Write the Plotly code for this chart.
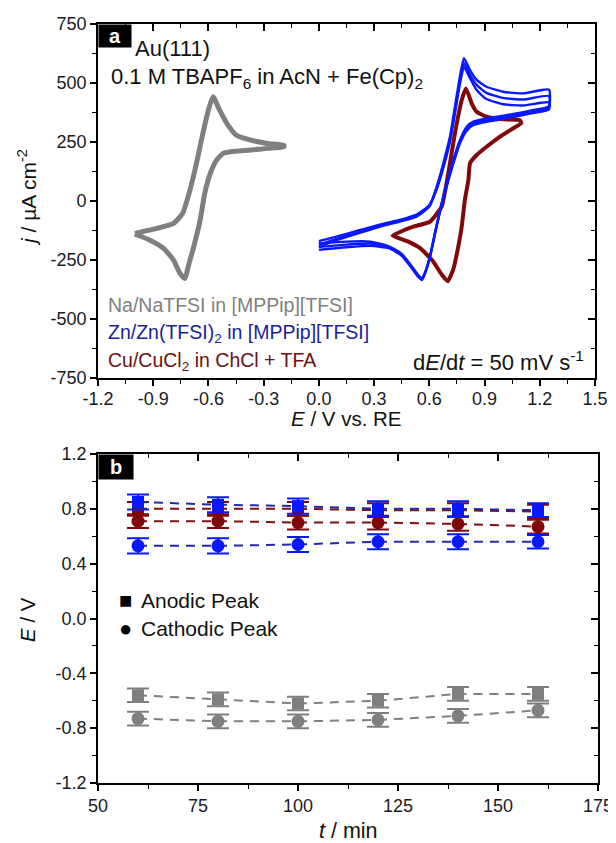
import plotly.graph_objects as go

# The page body has an 8 px margin; the figure starts at (8, 8) and reaches the window edges
OFF = 8
W, H = 616 - OFF, 843 - OFF
FONT = "Arial, Liberation Sans, sans-serif"

def px(x):
    return (x - OFF) / W

def py(y):
    return 1 - (y - OFF) / H

# ---------------- Panel a: cyclic voltammograms ----------------
gray_E = [-1.00, -0.88, -0.79, -0.74, -0.70, -0.665, -0.63, -0.60, -0.575, -0.54, -0.50, -0.45, -0.37, -0.28, -0.19,
          -0.19, -0.28, -0.37, -0.48, -0.52, -0.555, -0.59, -0.62, -0.645, -0.68, -0.71, -0.727, -0.755, -0.79, -0.845, -0.92, -1.00]
gray_j = [-137, -116, -95, -52, 47, 160, 287, 386, 442, 386, 329, 280, 258, 244, 237,
          230, 223, 216, 209, 202, 174, 117, 33, -81, -194, -278, -328, -306, -250, -200, -165, -140]

blue_E = [0.00, 0.10, 0.20, 0.33, 0.45, 0.53, 0.60, 0.64, 0.676, 0.712, 0.739, 0.766, 0.788, 0.821, 0.857, 0.91, 1.00, 1.11, 1.25,
          1.25, 1.147, 1.02, 0.911, 0.839, 0.803, 0.766, 0.73, 0.694, 0.658, 0.63, 0.603, 0.58, 0.56, 0.54, 0.50, 0.45, 0.38, 0.28, 0.15, 0.00]
blue1_j = [-195, -165, -140, -109, -85, -66, -24, 61, 160, 272, 400, 527, 605, 555, 513, 484, 463, 456, 472,
           402, 383, 364, 350, 336, 315, 258, 174, 75, -38, -137, -236, -300, -335, -322, -280, -232, -200, -190, -196, -207]
blue2_j = [-185, -160, -135, -105, -82, -62, -20, 55, 150, 262, 385, 510, 585, 535, 492, 458, 437, 430, 445,
           395, 375, 356, 342, 328, 305, 250, 165, 68, -42, -140, -238, -298, -330, -318, -276, -228, -196, -180, -185, -195]
blue3_j = [-170, -150, -128, -100, -78, -58, -18, 50, 140, 250, 370, 495, 568, 520, 470, 432, 410, 405, 418,
           388, 370, 350, 336, 322, 298, 244, 158, 62, -45, -142, -236, -295, -326, -314, -272, -224, -192, -172, -172, -180]

red_E = [0.40, 0.45, 0.513, 0.603, 0.667, 0.703, 0.739, 0.776, 0.799, 0.83, 0.857, 0.911, 1.00, 1.09, 1.10,
         1.056, 0.984, 0.911, 0.857, 0.821, 0.812, 0.793, 0.776, 0.757, 0.73, 0.70, 0.67, 0.62, 0.55, 0.48, 0.40]
red_j = [-147, -128, -109, -88, -24, 117, 287, 428, 477, 414, 378, 357, 346, 343, 330,
         308, 273, 230, 195, 160, 89, 4, -109, -194, -290, -340, -315, -255, -200, -170, -147]

x_a_ticks = [-1.2, -0.9, -0.6, -0.3, 0.0, 0.3, 0.6, 0.9, 1.2, 1.5]
x_a_labels = ["-1.2", "-0.9", "-0.6", "-0.3", "0.0", "0.3", "0.6", "0.9", "1.2", "1.5"]
y_a_ticks = [-750, -500, -250, 0, 250, 500, 750]
y_a_labels = ["-750", "-500", "-250", "0", "250", "500", "750"]

# ---------------- Panel b: peak potentials vs time ----------------
t_min = [60, 80, 100, 120, 140, 160]
gray_anodic = [-0.56, -0.59, -0.62, -0.60, -0.55, -0.55]
gray_cathodic = [-0.73, -0.75, -0.75, -0.74, -0.71, -0.67]
red_anodic = [0.80, 0.80, 0.80, 0.79, 0.79, 0.78]
red_cathodic = [0.71, 0.71, 0.70, 0.70, 0.69, 0.67]
blue_anodic = [0.85, 0.83, 0.82, 0.80, 0.80, 0.79]
blue_cathodic = [0.53, 0.53, 0.54, 0.56, 0.56, 0.56]
gray_err = [0.05, 0.05, 0.05, 0.05, 0.05, 0.05]
red_err = [0.05, 0.05, 0.05, 0.05, 0.05, 0.05]
blue_err = [0.055, 0.055, 0.055, 0.055, 0.055, 0.05]

x_b_ticks = [50, 75, 100, 125, 150, 175]
x_b_labels = ["50", "75", "100", "125", "150", "175"]
y_b_ticks = [-1.2, -0.8, -0.4, 0.0, 0.4, 0.8, 1.2]
y_b_labels = ["-1.2", "-0.8", "-0.4", "0.0", "0.4", "0.8", "1.2"]

GRAY = "#7f7f7f"
BLUE = "#0a18ff"
BLUE_DASH = "#2626a8"
RED = "#7f0808"
RED_DASH = "#7a1212"

fig = go.Figure()

# panel a curves
fig.add_trace(go.Scatter(x=gray_E, y=gray_j, mode="lines",
                         line=dict(color=GRAY, width=5, shape="spline", smoothing=0.5),
                         xaxis="x", yaxis="y", showlegend=False, hoverinfo="skip"))
fig.add_trace(go.Scatter(x=red_E, y=red_j, mode="lines",
                         line=dict(color=RED, width=4, shape="spline", smoothing=0.4),
                         xaxis="x", yaxis="y", showlegend=False, hoverinfo="skip"))
for bj in (blue3_j, blue2_j, blue1_j):
    fig.add_trace(go.Scatter(x=blue_E, y=bj, mode="lines",
                             line=dict(color=BLUE, width=2.4, shape="spline", smoothing=0.5),
                             xaxis="x", yaxis="y", showlegend=False, hoverinfo="skip"))

# panel b series
def peak_trace(y, err, mcol, lcol, symbol, size):
    return go.Scatter(x=t_min, y=y, mode="lines+markers",
                      line=dict(color=lcol, width=2, dash="9px,7px"),
                      marker=dict(color=mcol, symbol=symbol, size=size),
                      error_y=dict(type="data", array=err, visible=True, color=mcol, thickness=2, width=11),
                      xaxis="x2", yaxis="y2", showlegend=False, hoverinfo="skip")

fig.add_trace(peak_trace(gray_anodic, gray_err, GRAY, GRAY, "square", 12))
fig.add_trace(peak_trace(gray_cathodic, gray_err, GRAY, GRAY, "circle", 13))
fig.add_trace(peak_trace(red_anodic, red_err, RED, RED_DASH, "square", 12))
fig.add_trace(peak_trace(red_cathodic, red_err, RED, RED_DASH, "circle", 13))
fig.add_trace(peak_trace(blue_anodic, blue_err, BLUE, BLUE_DASH, "square", 12))
fig.add_trace(peak_trace(blue_cathodic, blue_err, BLUE, BLUE_DASH, "circle", 13))

# empty traces for mirror axes
for xa, ya in (("x3", "y"), ("x", "y3"), ("x4", "y2"), ("x2", "y4")):
    fig.add_trace(go.Scatter(x=[None], y=[None], xaxis=xa, yaxis=ya, showlegend=False, hoverinfo="skip"))

tickfont = dict(family=FONT, size=18, color="#1a1a1a")
base = dict(showline=True, linecolor="black", linewidth=1.6, showgrid=False, zeroline=False, automargin=False,
            ticks="outside", ticklen=6, tickwidth=1.5, tickcolor="black", tickfont=tickfont)
mirror = dict(showline=True, linecolor="black", linewidth=1.6, showgrid=False, zeroline=False, automargin=False,
              ticks="inside", ticklen=7, tickwidth=1.5, tickcolor="black", showticklabels=False)

xa_dom = [px(98), px(595)]
ya_dom = [py(378), py(24)]
xb_dom = [px(98), px(598)]
yb_dom = [py(783), py(454)]

fig.update_layout(
    template="none",
    width=W, height=H, margin=dict(l=0, r=0, t=0, b=0, autoexpand=False),
    paper_bgcolor="white", plot_bgcolor="white", showlegend=False,
    xaxis=dict(**base, domain=xa_dom, anchor="y", range=[-1.2, 1.5], tickmode="array",
               tickvals=x_a_ticks, ticktext=x_a_labels, ticklabelstandoff=-2,
               minor=dict(tickmode="linear", tick0=-1.2, dtick=0.15, ticks="outside", ticklen=4, tickwidth=1.2, tickcolor="black")),
    yaxis=dict(**base, domain=ya_dom, anchor="x", range=[-750, 750], tickmode="array",
               tickvals=y_a_ticks, ticktext=y_a_labels,
               minor=dict(tickmode="linear", tick0=-750, dtick=125, ticks="outside", ticklen=4, tickwidth=1.2, tickcolor="black")),
    xaxis3=dict(**mirror, overlaying="x", side="top", anchor="y", range=[-1.2, 1.5], tickmode="array", tickvals=x_a_ticks,
                minor=dict(tickmode="linear", tick0=-1.2, dtick=0.15, ticks="inside", ticklen=4, tickwidth=1.2, tickcolor="black")),
    yaxis3=dict(**mirror, overlaying="y", side="right", anchor="x", range=[-750, 750], tickmode="array", tickvals=y_a_ticks,
                minor=dict(tickmode="linear", tick0=-750, dtick=125, ticks="inside", ticklen=4, tickwidth=1.2, tickcolor="black")),
    xaxis2=dict(**base, domain=xb_dom, anchor="y2", range=[50, 175], tickmode="array",
                tickvals=x_b_ticks, ticktext=x_b_labels,
                minor=dict(tickmode="linear", tick0=50, dtick=12.5, ticks="outside", ticklen=4, tickwidth=1.2, tickcolor="black")),
    yaxis2=dict(**base, domain=yb_dom, anchor="x2", range=[-1.2, 1.2], tickmode="array",
                tickvals=y_b_ticks, ticktext=y_b_labels,
                minor=dict(tickmode="linear", tick0=-1.2, dtick=0.2, ticks="outside", ticklen=4, tickwidth=1.2, tickcolor="black")),
    xaxis4=dict(**mirror, overlaying="x2", side="top", anchor="y2", range=[50, 175], tickmode="array", tickvals=x_b_ticks,
                minor=dict(tickmode="linear", tick0=50, dtick=12.5, ticks="inside", ticklen=4, tickwidth=1.2, tickcolor="black")),
    yaxis4=dict(**mirror, overlaying="y2", side="right", anchor="x2", range=[-1.2, 1.2], tickmode="array", tickvals=y_b_ticks,
                minor=dict(tickmode="linear", tick0=-1.2, dtick=0.2, ticks="inside", ticklen=4, tickwidth=1.2, tickcolor="black")),
)

ann = []
def text(x, y, s, size, color="#111111", xanchor="left", yanchor="middle", angle=0):
    ann.append(dict(x=px(x), y=py(y), xref="paper", yref="paper", text=s, showarrow=False,
                    xanchor=xanchor, yanchor=yanchor, textangle=angle,
                    font=dict(family=FONT, size=size, color=color)))

# panel labels
for lbl, x0, y0, w, h in (("a", 98, 24, 32, 22), ("b", 98, 454, 34, 24)):
    ann.append(dict(x=px(x0), y=py(y0), xref="paper", yref="paper", text="<b>%s</b>" % lbl, showarrow=False,
                    xanchor="left", yanchor="top", width=w, height=h, bgcolor="black", borderpad=0,
                    font=dict(family=FONT, size=20, color="white")))

text(133, 48, "Au(111)", 22)
text(109, 78, "0.1 M TBAPF<sub>6</sub> in AcN + Fe(Cp)<sub>2</sub>", 22)
text(106, 305, "Na/NaTFSI in [MPPip][TFSI]", 19.5, GRAY)
text(106, 333, "Zn/Zn(TFSI)<sub>2</sub> in [MPPip][TFSI]", 19.5, "#1c1c9c")
text(106, 361, "Cu/CuCl<sub>2</sub> in ChCl + TFA", 19.5, "#6a1010")
text(586, 361, "d<i>E</i>/d<i>t</i> = 50 mV s<sup>-1</sup>", 22, "#111111", xanchor="right")

# axis titles
text(27, 198, "<i>j</i> / µA cm<sup>-2</sup>", 21, xanchor="center", angle=-90)
text(346, 418, "<i>E</i> / V vs. RE", 20.5, xanchor="center")
text(27, 620, "<i>E</i> / V", 20.5, xanchor="center", angle=-90)
text(348, 831, "<i>t</i> / min", 21.5, xanchor="center")

# panel b legend
text(125, 600, "■", 22, "black", xanchor="center")
text(139, 600, "Anodic Peak", 21)
text(125, 628, "●", 22, "black", xanchor="center")
text(139, 628, "Cathodic Peak", 21)

fig.update_layout(annotations=ann)
fig.write_html("out.html")
